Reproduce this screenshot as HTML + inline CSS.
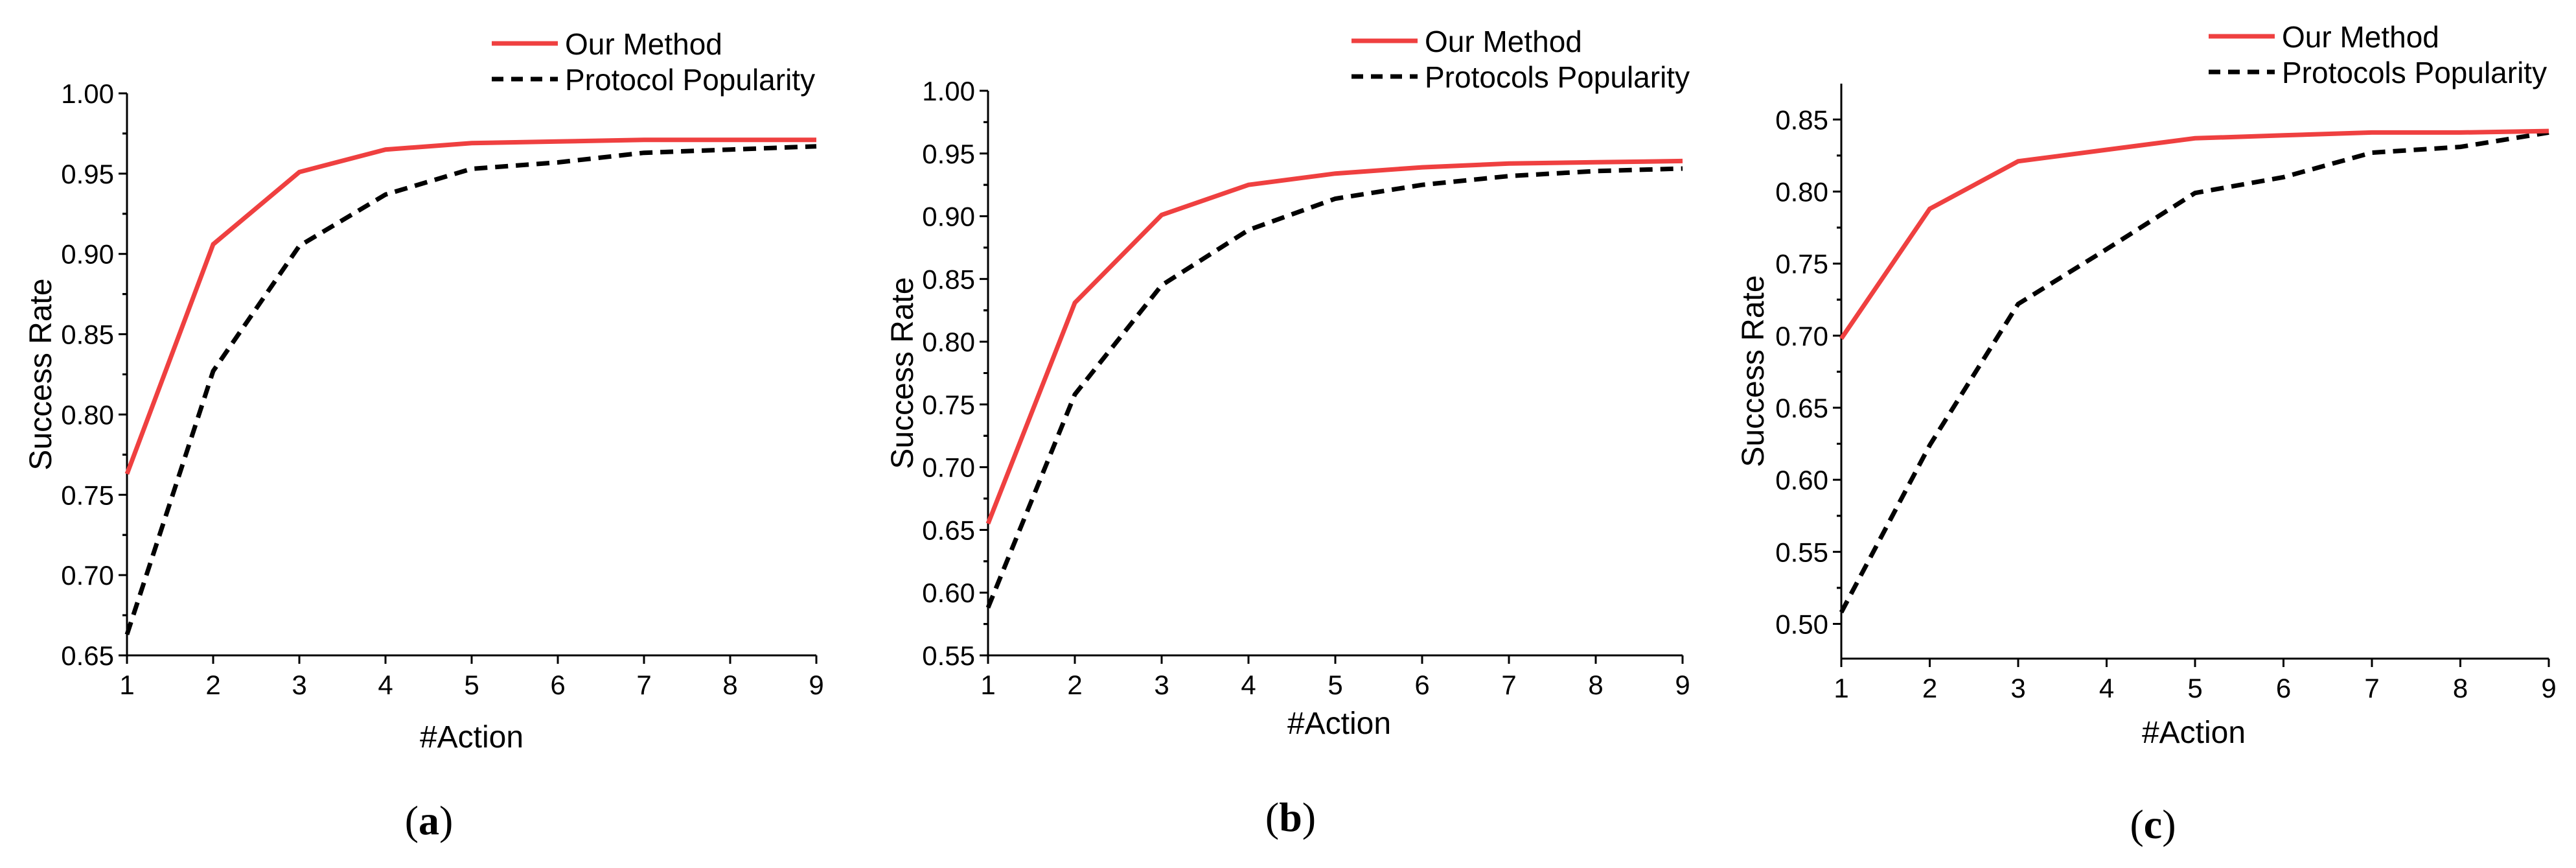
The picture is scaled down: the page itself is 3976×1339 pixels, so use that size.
<!DOCTYPE html>
<html><head><meta charset="utf-8"><style>
html,body{margin:0;padding:0;background:#fff;}
svg{display:block;font-family:"Liberation Sans",Arial,sans-serif;}
</style></head><body>
<svg id="fig" width="3976" height="1339" viewBox="0 0 3976 1339"></svg>
<script>
const xCategories = [1,2,3,4,5,6,7,8,9];
const aOurMethod = [0.763,0.906,0.951,0.965,0.969,0.970,0.971,0.971,0.971];
const aPopularity = [0.663,0.827,0.905,0.937,0.953,0.957,0.963,0.965,0.967];
const bOurMethod = [0.655,0.831,0.901,0.925,0.934,0.939,0.942,0.943,0.944];
const bPopularity = [0.588,0.758,0.845,0.889,0.914,0.925,0.932,0.936,0.938];
const cOurMethod = [0.698,0.788,0.821,0.829,0.837,0.839,0.841,0.841,0.842];
const cPopularity = [0.508,0.624,0.722,0.760,0.799,0.810,0.827,0.831,0.841];
const aYTicks = [0.65,0.70,0.75,0.80,0.85,0.90,0.95,1.00];
const bYTicks = [0.55,0.60,0.65,0.70,0.75,0.80,0.85,0.90,0.95,1.00];
const cYTicks = [0.50,0.55,0.60,0.65,0.70,0.75,0.80,0.85];
const legendLabels = ["Our Method","Protocol Popularity","Protocols Popularity"];

const NS="http://www.w3.org/2000/svg";
const svg=document.getElementById('fig');
function mk(tag,attrs,parent){const e=document.createElementNS(NS,tag);for(const k in attrs)e.setAttribute(k,attrs[k]);(parent||svg).appendChild(e);return e;}

const panels=[
 {id:'a',x0:196,x1:1260,yTop:144,yBot:1011,ymin:0.65,ymax:1.00,ticks:aYTicks,red:aOurMethod,blk:aPopularity,legX:759,legY:67,leg2:legendLabels[1],xtX:728,xtY:1136,ytX:62,capX:662,capY:1287},
 {id:'b',x0:1525,x1:2597,yTop:140,yBot:1011,ymin:0.55,ymax:1.00,ticks:bYTicks,red:bOurMethod,blk:bPopularity,legX:2086,legY:63,leg2:legendLabels[2],xtX:2067,xtY:1115,ytX:1392,capX:1992,capY:1282},
 {id:'c',x0:2842,x1:3934,yTop:129,yBot:1016,ymin:0.4759,ymax:0.8749,ticks:cYTicks,red:cOurMethod,blk:cPopularity,legX:3409,legY:56,leg2:legendLabels[2],xtX:3386,xtY:1129,ytX:2705,capX:3323,capY:1293}
];

panels.forEach(p=>{
  const g=mk('g',{});
  
  
  const xs=v=>p.x0+(v-1)/8*(p.x1-p.x0);
  const ys=v=>p.yBot-(v-p.ymin)/(p.ymax-p.ymin)*(p.yBot-p.yTop);
  const ax=mk('path',{d:`M${p.x0},${p.yTop}V${p.yBot}H${p.x1}`,fill:'none',stroke:'#000','stroke-width':3},g);
  
  
  const step=p.ticks[1]-p.ticks[0];
  p.ticks.forEach((t,i)=>{
    const y=ys(t);
    mk('line',{x1:p.x0-13,x2:p.x0,y1:y,y2:y,stroke:'#000','stroke-width':3},g);
    const tx=mk('text',{x:p.x0-20,y:y+15,'font-size':42,'text-anchor':'end'},g);
    tx.textContent=t.toFixed(2);
    
    
    [t-step/2,t+step/2].forEach(m=>{ if(m>p.ymin&&m<p.ymax){const ym=ys(m);mk('line',{x1:p.x0-7,x2:p.x0,y1:ym,y2:ym,stroke:'#000','stroke-width':3},g);} });
  });
  xCategories.forEach(c=>{
    const x=xs(c);
    mk('line',{x1:x,x2:x,y1:p.yBot,y2:p.yBot+13,stroke:'#000','stroke-width':3},g);
    const tx=mk('text',{x:x,y:p.yBot+60,'font-size':42,'text-anchor':'middle'},g);
    tx.textContent=c;
    
    
  });
  const pts=arr=>arr.map((v,i)=>xs(xCategories[i]).toFixed(1)+','+ys(v).toFixed(1)).join(' ');
  const bl=mk('polyline',{points:pts(p.blk),fill:'none',stroke:'#000','stroke-width':7,'stroke-dasharray':'20 12'},g);
  
  
  const rl=mk('polyline',{points:pts(p.red),fill:'none',stroke:'#ef4040','stroke-width':7,'stroke-linejoin':'miter'},g);
  
  
  const lg=mk('g',{},g);
  
  
  mk('line',{x1:p.legX,x2:p.legX+102,y1:p.legY,y2:p.legY,stroke:'#ef4040','stroke-width':7},lg);
  mk('line',{x1:p.legX,x2:p.legX+102,y1:p.legY+55,y2:p.legY+55,stroke:'#000','stroke-width':7,'stroke-dasharray':'18 12'},lg);
  const l1=mk('text',{x:p.legX+113,y:p.legY+17,'font-size':46},lg);
  l1.textContent=legendLabels[0];
  
  
  const l2=mk('text',{x:p.legX+113,y:p.legY+72,'font-size':46},lg);
  l2.textContent=p.leg2;
  
  
  const xt=mk('text',{x:p.xtX,y:p.xtY+17,'font-size':48,'text-anchor':'middle'},g);
  xt.textContent='#Action';
  
  
  const yc=(p.yTop+p.yBot)/2;
  const yt=mk('text',{x:p.ytX+17,y:yc,'font-size':48,'text-anchor':'middle',transform:`rotate(-90 ${p.ytX+17} ${yc})`},g);
  yt.textContent='Success Rate';
  
  
  const cap=mk('text',{x:p.capX,y:p.capY,'font-size':64,'text-anchor':'middle','font-family':'"Liberation Serif",serif'},g);
  cap.innerHTML='(<tspan font-weight="bold">'+p.id+'</tspan>)';
  
  
});
</script>
</body></html>
